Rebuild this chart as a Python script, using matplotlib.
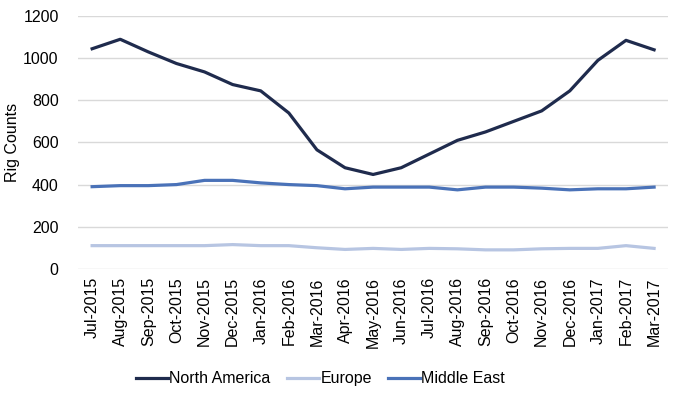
import matplotlib
matplotlib.use("Agg")
import matplotlib.pyplot as plt

months = ["Jul-2015", "Aug-2015", "Sep-2015", "Oct-2015", "Nov-2015", "Dec-2015",
          "Jan-2016", "Feb-2016", "Mar-2016", "Apr-2016", "May-2016", "Jun-2016",
          "Jul-2016", "Aug-2016", "Sep-2016", "Oct-2016", "Nov-2016", "Dec-2016",
          "Jan-2017", "Feb-2017", "Mar-2017"]
north_america = [1045, 1090, 1030, 975, 935, 875, 845, 740, 565, 480, 448, 480,
                 545, 610, 650, 700, 750, 845, 990, 1085, 1040]
europe = [110, 110, 110, 110, 110, 115, 110, 110, 100, 92, 97, 92,
          97, 95, 90, 90, 95, 97, 97, 110, 97]
middle_east = [390, 395, 395, 400, 420, 420, 408, 400, 395, 380, 388, 388,
               388, 375, 388, 388, 383, 375, 380, 380, 388]

plt.rcParams['font.family'] = ['Liberation Sans', 'DejaVu Sans']

fig = plt.figure(figsize=(6.79, 3.93), dpi=100)
ax = fig.add_axes([0.115, 0.316, 0.869, 0.643])

x = list(range(len(months)))
ax.plot(x, north_america, color="#1f2b4d", lw=2.3, label="North America")
ax.plot(x, europe, color="#b7c5e2", lw=2.3, label="Europe")
ax.plot(x, middle_east, color="#4a72b8", lw=2.3, label="Middle East")

ax.set_xlim(-0.5, len(months) - 0.5)
ax.set_ylim(0, 1200)
ax.set_yticks(range(0, 1201, 200))
ax.set_xticks(x)
ax.set_xticklabels(months, rotation=90, fontsize=11.5)
ax.tick_params(axis='y', labelsize=11.5, length=0, pad=14)
ax.tick_params(axis='x', length=0, pad=6)
ax.grid(axis='y', color="#d9d9d9", lw=1)
ax.set_axisbelow(True)
for s in ax.spines.values():
    s.set_visible(False)
ax.set_ylabel("Rig Counts", fontsize=11.5)
ax.yaxis.set_label_coords(-0.099, 0.5)

fig.legend(loc="lower center", bbox_to_anchor=(0.472, -0.02), ncol=3, frameon=False,
           fontsize=11.5, handlelength=2.0, handletextpad=0.1, columnspacing=1.0)

fig.savefig("out.png", dpi=100)
